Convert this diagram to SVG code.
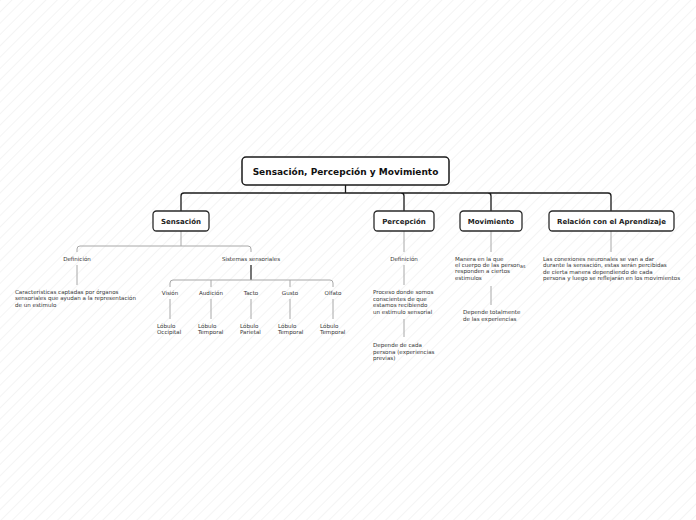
<svg xmlns="http://www.w3.org/2000/svg" width="696" height="520" viewBox="0 0 696 520">
<defs>
<pattern id="stripes" patternUnits="userSpaceOnUse" width="8" height="8" patternTransform="rotate(45)">
<line x1="0" y1="0" x2="0" y2="8" stroke="#e9e9e9" stroke-width="1"/>
</pattern>
<style>
.bg{fill:#ffffff}
.box{fill:#ffffff;stroke:#2a2a2a;stroke-width:1.3}
.root{fill:#ffffff;stroke:#1a1a1a;stroke-width:1.5}
.tt{font-family:"DejaVu Sans","Verdana",sans-serif;font-weight:bold;font-size:9px;fill:#111;text-anchor:middle}
.t2{font-family:"DejaVu Sans","Verdana",sans-serif;font-weight:bold;font-size:7px;fill:#222;text-anchor:middle}
.s{font-family:"DejaVu Sans","Verdana",sans-serif;font-size:5.55px;fill:#333}
.c{text-anchor:middle}
.main{fill:none;stroke:#1a1a1a;stroke-width:1.3}
.sub{fill:none;stroke:#a8a8a8;stroke-width:1}
</style>
</defs>
<rect class="bg" x="0" y="0" width="696" height="520"/>
<rect x="0" y="0" width="696" height="520" fill="url(#stripes)"/>

<g id="connectors">
<path class="main" d="M345.5,185 V193 M345.5,193 H184 Q181,193 181,196 V211 M345.5,193 H401 Q404,193 404,196 V211 M345.5,193 H488 Q491,193 491,196 V211 M345.5,193 H608 Q611,193 611,196 V211"/>
<path class="sub" d="M181,231 V246 M181,246 H80 Q77,246 77,249 V252 M181,246 H248 Q251,246 251,249 V252"/>
<path class="sub" d="M77,265 V285"/>
<path class="main" d="M251,265 V280" style="stroke-width:1.2"/>
<path class="sub" d="M251,280 H173 Q170,280 170,283 V287 M251,280 H330 Q333,280 333,283 V287 M211,280 V287 M290,280 V287"/>
<path class="sub" d="M170,299 V319 M211,299 V319 M251,299 V319 M290,299 V319 M333,299 V319"/>
<path class="sub" d="M404,231 V252 M404,265 V285 M404,319 V337"/>
<path class="sub" d="M491,231 V252 M491,286 V305"/>
<path class="sub" d="M611,231 V252"/>
</g>

<g id="root">
<rect class="root" x="242" y="157" width="207" height="28" rx="4"/>
<text class="tt" x="345.5" y="175">Sensación, Percepción y Movimiento</text>
</g>

<g id="sensacion">
<rect class="box" x="153" y="211" width="56" height="20" rx="3.5"/>
<text class="t2" x="181" y="223.5">Sensación</text>
</g>
<g id="percepcion">
<rect class="box" x="374" y="211" width="60" height="20" rx="3.5"/>
<text class="t2" x="404" y="223.5">Percepción</text>
</g>
<g id="movimiento">
<rect class="box" x="460" y="211" width="62" height="20" rx="3.5"/>
<text class="t2" x="491" y="223.5">Movimiento</text>
</g>
<g id="relacion">
<rect class="box" x="549" y="211" width="125" height="20" rx="3.5"/>
<text class="t2" x="611.5" y="223.5">Relación con el Aprendizaje</text>
</g>

<g id="sens-definicion">
<text class="s c" x="77" y="261">Definición</text>
</g>
<g id="sens-def-texto">
<text class="s" x="15" y="293.5">Caracteristicas captadas por órganos</text>
<text class="s" x="15" y="300.2">sensoriales que ayudan a la representación</text>
<text class="s" x="15" y="306.9">de un estimulo</text>
</g>
<g id="sistemas">
<text class="s c" x="251" y="261">Sistemas sensoriales</text>
</g>
<g id="vision"><text class="s c" x="170" y="294.5">Visión</text></g>
<g id="audicion"><text class="s c" x="211" y="294.5">Audición</text></g>
<g id="tacto"><text class="s c" x="251" y="294.5">Tacto</text></g>
<g id="gusto"><text class="s c" x="290" y="294.5">Gusto</text></g>
<g id="olfato"><text class="s c" x="333" y="294.5">Olfato</text></g>
<g id="lob-occipital"><text class="s" x="157" y="328">Lóbulo</text><text class="s" x="157" y="334">Occipital</text></g>
<g id="lob-temporal-1"><text class="s" x="198" y="328">Lóbulo</text><text class="s" x="198" y="334">Temporal</text></g>
<g id="lob-parietal"><text class="s" x="240" y="328">Lóbulo</text><text class="s" x="240" y="334">Parietal</text></g>
<g id="lob-temporal-2"><text class="s" x="278" y="328">Lóbulo</text><text class="s" x="278" y="334">Temporal</text></g>
<g id="lob-temporal-3"><text class="s" x="320" y="328">Lóbulo</text><text class="s" x="320" y="334">Temporal</text></g>

<g id="perc-definicion">
<text class="s c" x="404" y="261">Definición</text>
</g>
<g id="perc-proceso">
<text class="s" x="373" y="294">Proceso donde somos</text>
<text class="s" x="373" y="300.6">conscientes de que</text>
<text class="s" x="373" y="307.1">estamos recibiendo</text>
<text class="s" x="373" y="313.7">un estimulo sensorial</text>
</g>
<g id="perc-depende">
<text class="s" x="373" y="347">Depende de cada</text>
<text class="s" x="373" y="353.6">persona (experiencias</text>
<text class="s" x="373" y="360.1">previas)</text>
</g>

<g id="mov-manera">
<text class="s" x="455" y="261">Manera en la que</text>
<text class="s" x="455" y="267.2">el cuerpo de las person<tspan dy="0.8" font-size="4.8">as</tspan></text>
<text class="s" x="455" y="273.4">responden a ciertos</text>
<text class="s" x="455" y="279.7">estimulos</text>
</g>
<g id="mov-depende">
<text class="s" x="463" y="314">Depende totalmente</text>
<text class="s" x="463" y="320.7">de las experiencias</text>
</g>

<g id="rel-texto">
<text class="s" x="543" y="261">Las conexiones neuronales se van a dar</text>
<text class="s" x="543" y="267.4">durante la sensación, estas serán percibidas</text>
<text class="s" x="543" y="273.8">de cierta manera dependiendo de cada</text>
<text class="s" x="543" y="280.2">persona y luego se reflejarán en los movimientos</text>
</g>
</svg>
